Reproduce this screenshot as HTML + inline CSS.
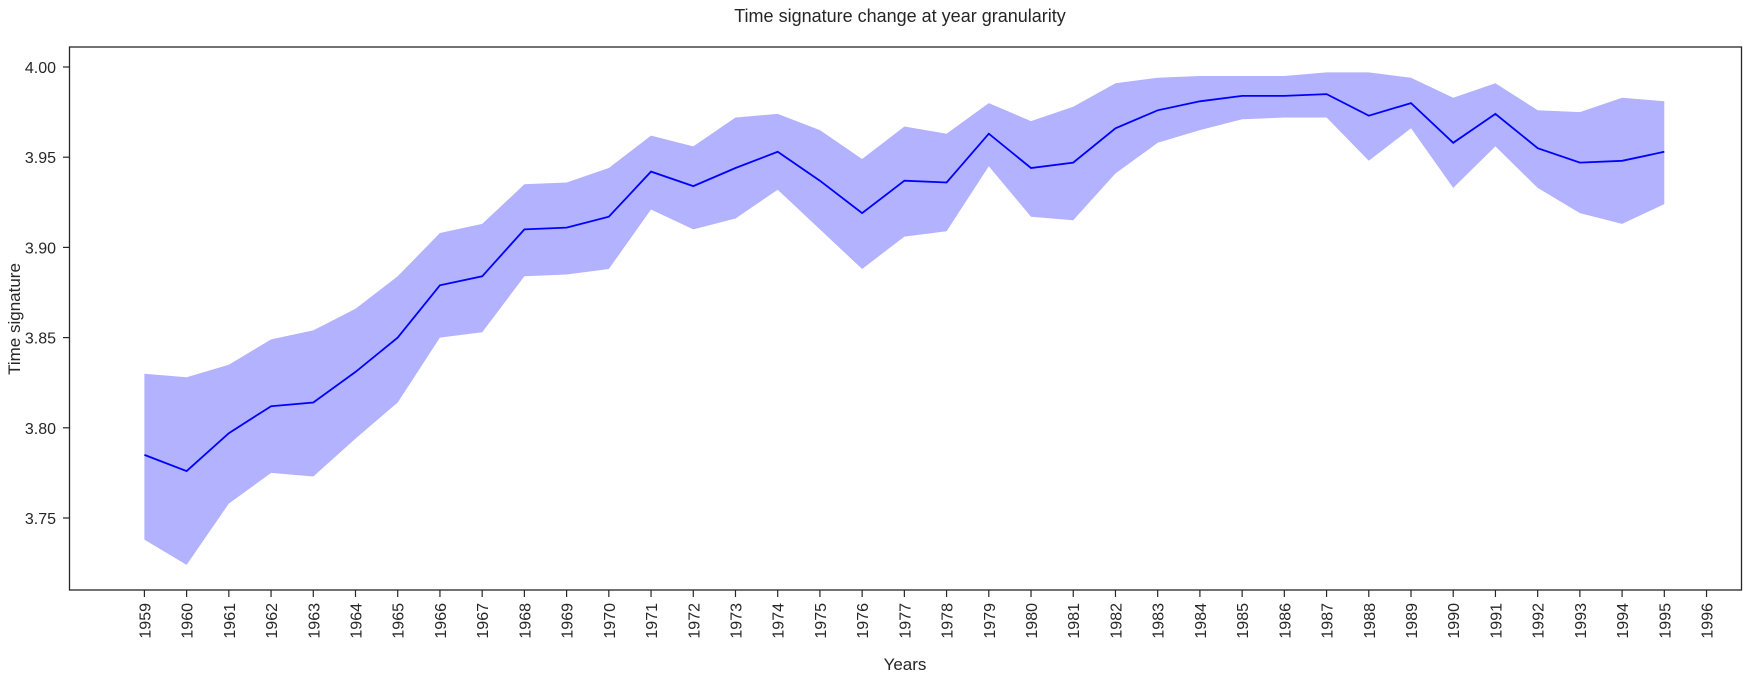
<!DOCTYPE html>
<html><head><meta charset="utf-8"><style>
html,body{margin:0;padding:0;background:#fff;}
svg{display:block;font-family:"Liberation Sans",sans-serif;}
</style></head><body>
<svg id="chart" width="1755" height="681" viewBox="0 0 1755 681">
<text x="900" y="22" text-anchor="middle" font-size="18" fill="#262626">Time signature change at year granularity</text>
<g id="plot"></g>
<rect x="69.5" y="47" width="1672" height="543" fill="none" stroke="#262626" stroke-width="1.3"/>
<text x="905" y="670" text-anchor="middle" font-size="17" fill="#262626">Years</text>
<text transform="translate(20,319) rotate(-90)" text-anchor="middle" font-size="17" fill="#262626">Time signature</text>
</svg>
<script>
const years = [1959,1960,1961,1962,1963,1964,1965,1966,1967,1968,1969,1970,1971,1972,1973,1974,1975,1976,1977,1978,1979,1980,1981,1982,1983,1984,1985,1986,1987,1988,1989,1990,1991,1992,1993,1994,1995];
const tickYears = [1959,1960,1961,1962,1963,1964,1965,1966,1967,1968,1969,1970,1971,1972,1973,1974,1975,1976,1977,1978,1979,1980,1981,1982,1983,1984,1985,1986,1987,1988,1989,1990,1991,1992,1993,1994,1995,1996];
const meanVals = [3.785,3.776,3.797,3.812,3.814,3.831,3.850,3.879,3.884,3.910,3.911,3.917,3.942,3.934,3.944,3.953,3.937,3.919,3.937,3.936,3.963,3.944,3.947,3.966,3.976,3.981,3.984,3.984,3.985,3.973,3.980,3.958,3.974,3.955,3.947,3.948,3.953];
const upperVals = [3.830,3.828,3.835,3.849,3.854,3.866,3.884,3.908,3.913,3.935,3.936,3.944,3.962,3.956,3.972,3.974,3.965,3.949,3.967,3.963,3.980,3.970,3.978,3.991,3.994,3.995,3.995,3.995,3.997,3.997,3.994,3.983,3.991,3.976,3.975,3.983,3.981];
const lowerVals = [3.738,3.724,3.758,3.775,3.773,3.794,3.814,3.850,3.853,3.884,3.885,3.888,3.921,3.910,3.916,3.932,3.910,3.888,3.906,3.909,3.945,3.917,3.915,3.941,3.958,3.965,3.971,3.972,3.972,3.948,3.966,3.933,3.956,3.933,3.919,3.913,3.924];
const yTicks = [3.75,3.80,3.85,3.90,3.95,4.00];

const NS = "http://www.w3.org/2000/svg";
const plot = document.getElementById('plot');
function xScale(yr){ return 144.4 + (yr - 1959) * 42.22; }
function yScale(v){ return 67 + (4.0 - v) * 1804; }
function mk(tag, attrs){ const e = document.createElementNS(NS, tag); for (const k in attrs) e.setAttribute(k, attrs[k]); return e; }

let d = '';
years.forEach((yr,i)=>{ d += (i?'L':'M') + xScale(yr).toFixed(1) + ',' + yScale(upperVals[i]).toFixed(1); });
for (let i = years.length-1; i >= 0; i--) d += 'L' + xScale(years[i]).toFixed(1) + ',' + yScale(lowerVals[i]).toFixed(1);
d += 'Z';
const band = mk('path', {d: d, fill: '#b2b2ff', stroke: 'none'});


plot.appendChild(band);

const pts = years.map((yr,i)=> xScale(yr).toFixed(1) + ',' + yScale(meanVals[i]).toFixed(1)).join(' ');
const line = mk('polyline', {points: pts, fill: 'none', stroke: '#0000ff', 'stroke-width': 1.8});


plot.appendChild(line);

yTicks.forEach(v=>{
  const y = yScale(v);
  const t = mk('line', {x1: 63, x2: 69.5, y1: y, y2: y, stroke: '#262626', 'stroke-width': 1.2});
  
  
  plot.appendChild(t);
  const lb = mk('text', {x: 56, y: y + 6, 'text-anchor': 'end', 'font-size': 16, fill: '#262626'});
  lb.textContent = v.toFixed(2);
  
  
  plot.appendChild(lb);
});

tickYears.forEach(yr=>{
  const x = xScale(yr);
  const t = mk('line', {x1: x, x2: x, y1: 590, y2: 597, stroke: '#262626', 'stroke-width': 1.2});
  
  
  plot.appendChild(t);
  const lb = mk('text', {transform: 'translate(' + (x + 6) + ',603) rotate(-90)', 'text-anchor': 'end', 'font-size': 16, fill: '#262626'});
  lb.textContent = String(yr);
  
  
  plot.appendChild(lb);
});
</script>
</body></html>
